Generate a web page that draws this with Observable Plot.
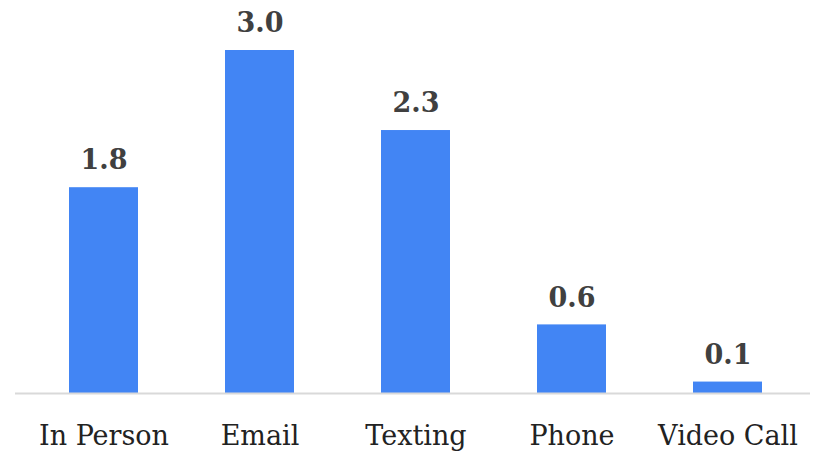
<!DOCTYPE html>
<html>
<head>
<meta charset="utf-8">
<script src="https://cdn.jsdelivr.net/npm/d3@7"></script>
<script src="https://cdn.jsdelivr.net/npm/@observablehq/plot@0.6"></script>
<style>
  html, body { margin: 0; padding: 0; background: #fff; }
</style>
</head>
<body>
<div id="chart"></div>
<script>
const categories = ["In Person", "Email", "Texting", "Phone", "Video Call"];
const values = [1.8, 3.0, 2.3, 0.6, 0.1];
const data = categories.map((c, i) => ({category: c, value: values[i]}));

const chart = Plot.plot({
  width: 823,
  height: 451,
  marginTop: 50,
  marginBottom: 58,
  marginLeft: 15,
  marginRight: 13,
  style: {fontFamily: "DejaVu Serif", background: "#fff"},
  x: {domain: categories, range: [24, 807], paddingInner: 0.56, paddingOuter: 0.28, label: null},
  y: {domain: [0, 3], axis: null},
  marks: [
    Plot.barY(data, {x: "category", y: "value", fill: "#4285f4"}),
    Plot.ruleY([0], {stroke: "#d9d9d9", strokeWidth: 2}),
    Plot.text(data, {x: "category", y: "value", text: d => d.value.toFixed(1), dy: -27, fontSize: 27, fontWeight: "bold", fill: "#404040"}),
    Plot.axisX({tickSize: 0, tickPadding: 32, fontSize: 27, fill: "#222", label: null})
  ]
});
document.getElementById("chart").appendChild(chart);
</script>
</body>
</html>
